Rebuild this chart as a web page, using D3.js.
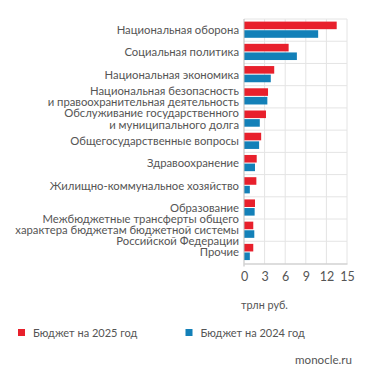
<!DOCTYPE html>
<html>
<head>
<meta charset="utf-8">
<script src="https://cdn.jsdelivr.net/npm/d3@7"></script>
<style>
  body { margin: 0; background: #fff; }
  text { font-family: Lato, sans-serif; fill: #555; }
</style>
</head>
<body>
<div class="chart"></div>
<script>
const WIDTH = 371;
const HEIGHT = 383;
const LEFT = 244;
const RIGHT = 347;
const TOP = 19;
const BOTTOM = 263.5;

var categories = [
	'Национальная оборона',
	'Социальная политика',
	'Национальная экономика',
	'Национальная безопасность\nи правоохранительная деятельность',
	'Обслуживание государственного\nи муниципального долга',
	'Общегосударственные вопросы',
	'Здравоохранение',
	'Жилищно-коммунальное хозяйство',
	'Образование',
	'Межбюджетные трансферты общего\nхарактера бюджетам бюджетной системы\nРоссийской Федерации',
	'Прочие'
];
var budget2025 = [13.5, 6.5, 4.4, 3.5, 3.2, 2.5, 1.85, 1.8, 1.6, 1.35, 1.35];
var budget2024 = [10.8, 7.7, 3.9, 3.4, 2.3, 2.2, 1.6, 0.85, 1.55, 1.5, 0.85];
var seriesNames = ['Бюджет на 2025 год', 'Бюджет на 2024 год'];
var seriesColors = ['#e8202c', '#1380b8'];
var xTicks = [0, 3, 6, 9, 12, 15];
var unitLabel = 'трлн руб.';
var source = 'monocle.ru';

var translate = function (x, y) {
	return 'translate(' + x + ',' + y + ')';
};

var xScale = d3.scaleLinear()
	.domain([0, 15])
	.range([LEFT, RIGHT]);

var yScale = d3.scaleBand()
	.domain(categories)
	.range([TOP, BOTTOM]);

var subScale = d3.scaleBand()
	.domain([0, 1])
	.range([2.6, 18.8])
	.paddingInner(0.12);

var svg = d3.select('.chart').append('svg')
	.attr('width', WIDTH)
	.attr('height', HEIGHT);

// grid
svg.append('g').selectAll('line.v')
	.data(xTicks.slice(1))
	.enter().append('line')
	.attr('x1', function (d) { return xScale(d); })
	.attr('x2', function (d) { return xScale(d); })
	.attr('y1', TOP)
	.attr('y2', BOTTOM)
	.attr('stroke', '#e4e4e4');

svg.append('g').selectAll('line.h')
	.data(categories)
	.enter().append('line')
	.attr('x1', LEFT)
	.attr('x2', RIGHT)
	.attr('y1', function (d) { return yScale(d); })
	.attr('y2', function (d) { return yScale(d); })
	.attr('stroke', '#e4e4e4');

// bars
var rows = categories.map(function (c, i) {
	return { cat: c, values: [budget2025[i], budget2024[i]] };
});

var rowG = svg.append('g').selectAll('g')
	.data(rows)
	.enter().append('g')
	.attr('transform', function (d) { return translate(0, yScale(d.cat)); });

rowG.selectAll('rect')
	.data(function (d) { return d.values; })
	.enter().append('rect')
	.attr('x', xScale(0))
	.attr('y', function (d, i) { return subScale(i); })
	.attr('width', function (d) { return xScale(d) - xScale(0); })
	.attr('height', subScale.bandwidth())
	.attr('fill', function (d, i) { return seriesColors[i]; });

// category labels
var lineH = 11.2;
rowG.append('text')
	.attr('text-anchor', 'end')
	.style('font-size', '11.3px')
	.each(function (d) {
		var lines = d.cat.split('\n');
		var t = d3.select(this);
		lines.forEach(function (l, k) {
			t.append('tspan')
				.attr('x', LEFT - 5)
				.attr('y', yScale.bandwidth() / 2 + (k - (lines.length - 1) / 2) * lineH + 4)
				.text(l);
		});
	});

// axes
var xAxis = d3.axisBottom(xScale).tickValues(xTicks).tickSize(0).tickPadding(9);
var ax = svg.append('g')
	.attr('transform', translate(0, BOTTOM))
	.call(xAxis);
ax.select('.domain').attr('stroke', '#bbb');
ax.selectAll('text').style('font-size', '12.5px').style('font-family', 'Lato, sans-serif').attr('fill', '#5a5a5a');

svg.append('line')
	.attr('x1', xScale(0)).attr('x2', xScale(0))
	.attr('y1', TOP).attr('y2', BOTTOM + 3)
	.attr('stroke', '#bbb');

svg.append('text')
	.attr('x', 241)
	.attr('y', 309)
	.style('font-size', '10.8px')
	.text(unitLabel);

// legend
var legendX = [18, 185.5];
var leg = svg.append('g').selectAll('g')
	.data(seriesNames)
	.enter().append('g')
	.attr('transform', function (d, i) { return translate(legendX[i], 329); });
leg.append('rect')
	.attr('width', 7).attr('height', 7)
	.attr('fill', function (d, i) { return seriesColors[i]; });
leg.append('text')
	.attr('x', 15)
	.attr('y', 7.5)
	.style('font-size', '11px')
	.text(function (d) { return d; });

svg.append('text')
	.attr('x', 352)
	.attr('y', 364)
	.attr('text-anchor', 'end')
	.style('font-size', '11.6px')
	.text(source);
</script>
</body>
</html>
